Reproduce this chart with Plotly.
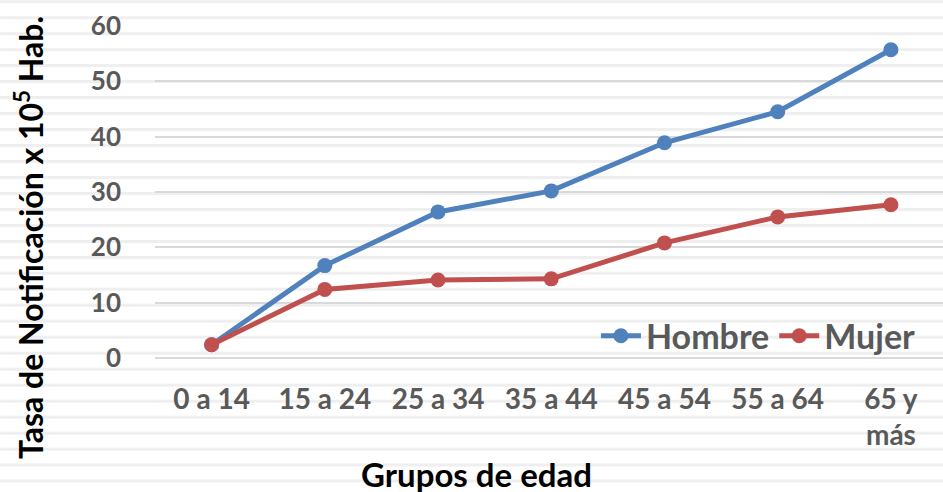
import plotly.graph_objects as go

categorias = ["0 a 14", "15 a 24", "25 a 34", "35 a 44", "45 a 54", "55 a 64", "65 y<br>más"]
hombre = [2.4, 16.7, 26.4, 30.2, 38.9, 44.5, 55.7]
mujer = [2.4, 12.4, 14.1, 14.3, 20.8, 25.5, 27.7]
y_ticks = [0, 10, 20, 30, 40, 50, 60]

W, H = 943, 492
ML, MR, MT, MB = 155, 0, 26, 134
PW, PH = W - ML - MR, H - MT - MB

FONT = "Lato, Roboto, sans-serif"
GRAY = "#595959"

fig = go.Figure()
fig.add_trace(go.Scatter(
    x=list(range(len(categorias))), y=hombre, name="Hombre", mode="lines+markers",
    line=dict(color="#4f81bd", width=5), marker=dict(size=15, color="#4f81bd"),
    cliponaxis=False))
fig.add_trace(go.Scatter(
    x=list(range(len(categorias))), y=mujer, name="Mujer", mode="lines+markers",
    line=dict(color="#c0504d", width=5), marker=dict(size=15, color="#c0504d"),
    cliponaxis=False))

# background horizontal stripe texture
shapes = []
period = 15.98
k = 0
while True:
    yc = 1.7 + k * period
    if yc > H + 2:
        break
    y0 = (H - MB - (yc - 1.5)) / PH
    y1 = (H - MB - (yc + 1.5)) / PH
    shapes.append(dict(type="rect", xref="paper", yref="paper",
                       x0=-ML / PW, x1=1 + 5 / PW, y0=y1, y1=y0,
                       fillcolor="#efefef", line=dict(width=0), layer="below"))
    k += 1

fig.update_layout(
    width=W, height=H,
    margin=dict(l=ML, r=MR, t=MT, b=MB),
    paper_bgcolor="white", plot_bgcolor="rgba(0,0,0,0)",
    shapes=shapes,
    showlegend=True,
    legend=dict(orientation="h", x=0.972, xanchor="right", y=0.066, yanchor="middle",
                font=dict(family=FONT, size=34, color=GRAY, weight=700),
                bgcolor="rgba(0,0,0,0)", itemwidth=40, traceorder="normal"),
    xaxis=dict(
        range=[-0.5, 6.46], tickmode="array", tickvals=list(range(len(categorias))),
        ticktext=categorias, showgrid=False, zeroline=False, showline=False,
        ticks="", ticklabelstandoff=22,
        tickfont=dict(family=FONT, size=28, color=GRAY, weight=700)),
    yaxis=dict(
        range=[0, 60], tickmode="array", tickvals=y_ticks,
        showgrid=True, gridcolor="#d9d9d9", gridwidth=1.5,
        zeroline=True, zerolinecolor="#d9d9d9", zerolinewidth=1.5,
        showline=False, ticks="", ticklabelstandoff=33,
        tickfont=dict(family=FONT, size=26, color=GRAY, weight=700)),
    annotations=[
        dict(text="Grupos de edad", xref="paper", yref="paper",
             x=(476 - ML) / PW, y=-(474 - (H - MB)) / PH, xanchor="center", yanchor="middle",
             showarrow=False, font=dict(family=FONT, size=33, color="black", weight=700)),
        dict(text="Tasa de Notificación x 10<sup>5</sup> Hab.", xref="paper", yref="paper",
             x=-(ML - 29) / PW, y=((H - MB) - 238) / PH, xanchor="center", yanchor="middle",
             textangle=-90, showarrow=False,
             font=dict(family=FONT, size=32, color="black", weight=700)),
    ],
)

fig.write_html("out.html", config={"displayModeBar": False},
               post_script="document.body.style.margin='0';document.body.style.overflow='hidden';")
